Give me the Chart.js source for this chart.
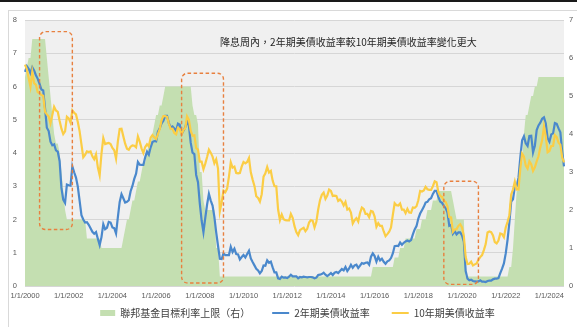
<!DOCTYPE html>
<html>
<head>
<meta charset="utf-8">
<script src="https://cdn.jsdelivr.net/npm/chart.js@4.4.1/dist/chart.umd.min.js"></script>
<style>
  html, body { margin: 0; padding: 0; background: #ffffff; }
  #wrap { width: 577px; height: 327px; }
</style>
</head>
<body>
<div id="wrap"><canvas id="c" width="577" height="327"></canvas></div>
<script>
// Monthly observations, Jan 2000 – Sep 2024
const firstYear = 2000;
const monthCount = 297;

// Fed funds target rate, upper bound (%), right axis
const fedFundsUpper = [
  5.5,5.75,6,6,6.5,6.5,6.5,6.5,6.5,6.5,6.5,6.5,
  6,5.5,5,4.5,4,3.75,3.75,3.5,3,2.5,2,1.75,
  1.75,1.75,1.75,1.75,1.75,1.75,1.75,1.75,1.75,1.75,1.25,1.25,
  1.25,1.25,1.25,1.25,1.25,1.25,1,1,1,1,1,1,
  1,1,1,1,1,1,1.25,1.5,1.75,1.75,2,2.25,
  2.25,2.5,2.75,2.75,3,3.25,3.25,3.5,3.75,3.75,4,4.25,
  4.5,4.5,4.75,4.75,5,5.25,5.25,5.25,5.25,5.25,5.25,5.25,
  5.25,5.25,5.25,5.25,5.25,5.25,5.25,5.25,4.75,4.5,4.5,4.25,
  3,3,2.25,2,2,2,2,2,2,1,1,0.25,
  0.25,0.25,0.25,0.25,0.25,0.25,0.25,0.25,0.25,0.25,0.25,0.25,
  0.25,0.25,0.25,0.25,0.25,0.25,0.25,0.25,0.25,0.25,0.25,0.25,
  0.25,0.25,0.25,0.25,0.25,0.25,0.25,0.25,0.25,0.25,0.25,0.25,
  0.25,0.25,0.25,0.25,0.25,0.25,0.25,0.25,0.25,0.25,0.25,0.25,
  0.25,0.25,0.25,0.25,0.25,0.25,0.25,0.25,0.25,0.25,0.25,0.25,
  0.25,0.25,0.25,0.25,0.25,0.25,0.25,0.25,0.25,0.25,0.25,0.25,
  0.25,0.25,0.25,0.25,0.25,0.25,0.25,0.25,0.25,0.25,0.25,0.5,
  0.5,0.5,0.5,0.5,0.5,0.5,0.5,0.5,0.5,0.5,0.5,0.75,
  0.75,0.75,1,1,1,1.25,1.25,1.25,1.25,1.25,1.25,1.5,
  1.5,1.5,1.75,1.75,1.75,2,2,2,2.25,2.25,2.25,2.5,
  2.5,2.5,2.5,2.5,2.5,2.5,2.5,2.25,2,1.75,1.75,1.75,
  1.75,1.75,0.25,0.25,0.25,0.25,0.25,0.25,0.25,0.25,0.25,0.25,
  0.25,0.25,0.25,0.25,0.25,0.25,0.25,0.25,0.25,0.25,0.25,0.25,
  0.25,0.25,0.5,0.5,1,1.75,2.5,2.5,3.25,3.25,4,4.5,
  4.5,4.75,5,5,5.25,5.25,5.5,5.5,5.5,5.5,5.5,5.5,
  5.5,5.5,5.5,5.5,5.5,5.5,5.5,5.5,5.5
];

// 2-year Treasury yield (%), left axis
const ust2y = [
  6.44,6.61,6.53,6.40,6.58,6.48,6.34,6.23,6.08,5.91,5.88,5.35,
  4.76,4.66,4.34,4.23,4.26,4.08,4.04,3.76,2.95,2.60,2.50,3.05,
  3.03,3.02,3.60,3.42,3.26,2.99,2.56,2.13,2.00,1.91,1.92,1.84,
  1.74,1.63,1.57,1.62,1.42,1.23,1.47,1.86,1.71,1.75,1.93,1.91,
  1.76,1.74,1.58,2.07,2.53,2.76,2.64,2.51,2.53,2.58,2.85,3.01,
  3.22,3.38,3.73,3.65,3.64,3.64,3.87,4.04,3.95,4.17,4.33,4.36,
  4.35,4.64,4.74,4.89,4.97,5.12,5.12,4.90,4.77,4.80,4.74,4.67,
  4.88,4.85,4.57,4.67,4.77,4.96,4.82,4.31,4.01,3.97,3.34,3.12,
  2.48,1.97,1.62,2.05,2.45,2.77,2.57,2.42,2.08,1.61,1.21,0.82,
  0.81,0.98,0.93,0.93,0.93,1.18,1.02,1.12,0.96,0.95,0.80,0.87,
  0.93,0.86,0.96,1.06,0.83,0.72,0.62,0.52,0.47,0.38,0.45,0.62,
  0.61,0.77,0.70,0.73,0.56,0.41,0.41,0.23,0.21,0.28,0.25,0.26,
  0.24,0.28,0.34,0.29,0.29,0.29,0.23,0.27,0.26,0.28,0.27,0.26,
  0.27,0.27,0.26,0.23,0.25,0.33,0.34,0.36,0.40,0.34,0.30,0.34,
  0.39,0.33,0.40,0.42,0.39,0.45,0.51,0.47,0.57,0.45,0.53,0.64,
  0.55,0.62,0.64,0.54,0.61,0.69,0.67,0.70,0.71,0.64,0.88,0.98,
  0.90,0.73,0.88,0.77,0.82,0.73,0.67,0.74,0.77,0.84,0.98,1.20,
  1.21,1.20,1.31,1.24,1.30,1.34,1.37,1.34,1.38,1.55,1.70,1.80,
  2.03,2.18,2.28,2.38,2.51,2.53,2.61,2.64,2.77,2.86,2.86,2.68,
  2.54,2.50,2.41,2.34,2.21,1.81,1.84,1.57,1.65,1.55,1.61,1.61,
  1.52,1.33,0.45,0.22,0.17,0.19,0.15,0.14,0.13,0.14,0.17,0.13,
  0.13,0.12,0.15,0.16,0.16,0.20,0.22,0.22,0.24,0.39,0.52,0.68,
  0.98,1.39,1.91,2.54,2.61,2.99,3.00,3.25,3.86,4.38,4.50,4.29,
  4.21,4.51,4.52,4.02,4.22,4.69,4.83,4.91,5.03,5.07,4.89,4.44,
  4.34,4.56,4.59,4.90,4.88,4.74,4.62,4.05,3.60
];

// 10-year Treasury yield (%), left axis
const ust10y = [
  6.66,6.52,6.26,5.99,6.44,6.10,6.05,5.83,5.80,5.74,5.72,5.24,
  5.16,5.10,4.89,5.14,5.39,5.28,5.24,4.97,4.73,4.57,4.65,5.09,
  5.04,4.91,5.28,5.21,5.16,4.93,4.65,4.26,3.87,3.94,4.05,4.03,
  4.05,3.90,3.81,3.96,3.57,3.33,3.98,4.45,4.27,4.29,4.30,4.27,
  4.15,4.08,3.83,4.35,4.72,4.73,4.50,4.28,4.13,4.10,4.19,4.23,
  4.22,4.17,4.50,4.34,4.14,4.00,4.18,4.26,4.20,4.46,4.54,4.47,
  4.42,4.57,4.72,4.99,5.11,5.11,5.09,4.88,4.72,4.73,4.60,4.56,
  4.76,4.72,4.56,4.69,4.75,5.10,5.00,4.67,4.52,4.53,4.15,4.10,
  3.74,3.74,3.51,3.68,3.88,4.10,4.01,3.89,3.69,3.81,3.53,2.25,
  2.52,2.87,2.82,2.93,3.29,3.72,3.56,3.59,3.40,3.39,3.40,3.59,
  3.73,3.69,3.73,3.85,3.42,3.20,3.01,2.70,2.65,2.54,2.76,3.29,
  3.39,3.58,3.41,3.46,3.17,3.00,3.00,2.30,1.98,2.15,2.01,1.98,
  1.97,1.97,2.17,2.05,1.80,1.62,1.53,1.68,1.72,1.75,1.65,1.72,
  1.91,1.98,1.96,1.76,1.93,2.30,2.58,2.74,2.81,2.62,2.72,2.90,
  2.86,2.71,2.72,2.71,2.56,2.60,2.54,2.42,2.53,2.30,2.33,2.21,
  1.88,1.98,2.04,1.94,2.20,2.36,2.32,2.17,2.17,2.07,2.26,2.24,
  2.09,1.78,1.89,1.81,1.81,1.64,1.50,1.56,1.63,1.76,2.14,2.49,
  2.43,2.42,2.48,2.30,2.30,2.19,2.32,2.21,2.20,2.36,2.35,2.40,
  2.58,2.86,2.84,2.87,2.98,2.91,2.89,2.89,3.00,3.15,3.12,2.83,
  2.71,2.68,2.57,2.53,2.40,2.07,2.06,1.63,1.70,1.71,1.81,1.86,
  1.76,1.50,0.87,0.66,0.67,0.73,0.62,0.65,0.68,0.79,0.87,0.93,
  1.08,1.26,1.61,1.64,1.62,1.52,1.32,1.28,1.37,1.58,1.56,1.47,
  1.76,1.93,2.13,2.75,2.90,3.14,2.90,2.90,3.52,3.98,3.89,3.62,
  3.53,3.75,3.66,3.46,3.57,3.75,3.90,4.17,4.38,4.80,4.50,4.02,
  4.06,4.21,4.21,4.54,4.48,4.31,4.25,3.87,3.72
];

// x-axis tick labels (every second January)
const tickLabels = [
  '1/1/2000','1/1/2002','1/1/2004','1/1/2006','1/1/2008','1/1/2010','1/1/2012',
  '1/1/2014','1/1/2016','1/1/2018','1/1/2020','1/1/2022','1/1/2024'
];

// Rate-cut windows outlined on the chart (month range, left-axis value range)
const cutWindows = [
  { from: '9/1/2000', to: '3/1/2002', low: 1.7, high: 7.65 },
  { from: '3/1/2007', to: '2/1/2009', low: 0.09, high: 6.4 },
  { from: '3/1/2019', to: '10/1/2020', low: 0.05, high: 3.15 }
];

const seriesNames = ['聯邦基金目標利率上限（右）', '2年期美債收益率', '10年期美債收益率'];
const noteText = '降息周內，2年期美債收益率較10年期美債收益率變化更大';

// Month labels "M/1/YYYY"
const months = [];
for (let i = 0; i < monthCount; i++) {
  const y = firstYear + Math.floor(i / 12);
  const m = (i % 12) + 1;
  months.push(m + '/1/' + y);
}

const COLORS = {
  fed: '#c4dfb1',
  y2: '#4a88cc',
  y10: '#fbcd45',
  plotBg: '#f0f0f0',
  grid: '#d6d6d6',
  tick: '#595959',
  frame: '#d9d9d9',
  window: '#e8803f'
};
const CJK = "'Noto Sans CJK TC', 'Noto Sans CJK SC', sans-serif";

function roundedRectPath(ctx, x, y, w, h, r) {
  ctx.beginPath();
  ctx.moveTo(x + r, y);
  ctx.lineTo(x + w - r, y);
  ctx.arcTo(x + w, y, x + w, y + r, r);
  ctx.lineTo(x + w, y + h - r);
  ctx.arcTo(x + w, y + h, x + w - r, y + h, r);
  ctx.lineTo(x + r, y + h);
  ctx.arcTo(x, y + h, x, y + h - r, r);
  ctx.lineTo(x, y + r);
  ctx.arcTo(x, y, x + r, y, r);
  ctx.closePath();
}

const decor = {
  id: 'decor',
  beforeDraw(chart) {
    const { ctx, chartArea: a, width, height } = chart;
    ctx.save();
    ctx.fillStyle = '#ffffff';
    ctx.fillRect(0, 0, width, height);
    // dark rule along the top
    ctx.fillStyle = '#1a1a1a';
    ctx.fillRect(0, 0, width, 2);
    // light outer frame
    ctx.strokeStyle = COLORS.frame;
    ctx.lineWidth = 1;
    ctx.strokeRect(8.5, 10.5, width + 10, height + 10);
    // plot background
    ctx.fillStyle = COLORS.plotBg;
    ctx.fillRect(a.left, a.top, a.right - a.left, a.bottom - a.top);
    ctx.restore();
  },
  afterDatasetsDraw(chart) {
    const { ctx, chartArea: a, scales } = chart;
    const x = scales.x, y = scales.y;
    ctx.save();
    // dashed outlines around rate-cut windows
    ctx.strokeStyle = COLORS.window;
    ctx.lineWidth = 1.4;
    ctx.setLineDash([3.5, 2.5]);
    cutWindows.forEach(w => {
      const x0 = x.getPixelForValue(months.indexOf(w.from));
      const x1 = x.getPixelForValue(months.indexOf(w.to));
      const y0 = y.getPixelForValue(w.high);
      const y1 = y.getPixelForValue(w.low);
      roundedRectPath(ctx, x0, y0, x1 - x0, y1 - y0, 6);
      ctx.stroke();
    });
    ctx.setLineDash([]);
    // note inside the plot
    ctx.fillStyle = '#262626';
    ctx.font = '10px ' + CJK;
    ctx.textAlign = 'center';
    ctx.textBaseline = 'middle';
    ctx.fillText(noteText, a.left + (a.right - a.left) * 0.6, a.top + 22);
    ctx.restore();
  },
  afterDraw(chart) {
    const { ctx, chartArea: a } = chart;
    const ds = chart.data.datasets;
    ctx.save();
    ctx.font = '10px ' + CJK;
    ctx.textBaseline = 'middle';
    ctx.textAlign = 'left';
    const boxW = [15, 17, 17];
    const gap = 5, pad = 22;
    const widths = ds.map((d, i) => boxW[i] + gap + ctx.measureText(d.label).width);
    const total = widths.reduce((s, v) => s + v, 0) + pad * (ds.length - 1);
    let cx = (a.left + a.right) / 2 + 3 - total / 2;
    const cy = 313;
    ds.forEach((d, i) => {
      if (i === 0) {
        ctx.fillStyle = d.backgroundColor;
        ctx.fillRect(cx, cy - 3, boxW[i], 6);
      } else {
        ctx.strokeStyle = d.borderColor;
        ctx.lineWidth = 2;
        ctx.beginPath();
        ctx.moveTo(cx, cy);
        ctx.lineTo(cx + boxW[i], cy);
        ctx.stroke();
      }
      ctx.fillStyle = '#404040';
      ctx.fillText(d.label, cx + boxW[i] + gap, cy);
      cx += widths[i] + pad;
    });
    ctx.restore();
  }
};

new Chart(document.getElementById('c'), {
  type: 'line',
  data: {
    labels: months,
    datasets: [
      {
        label: seriesNames[0],
        data: fedFundsUpper,
        yAxisID: 'y1',
        fill: 'origin',
        backgroundColor: COLORS.fed,
        borderColor: COLORS.fed,
        borderWidth: 0,
        pointRadius: 0,
        order: 3
      },
      {
        label: seriesNames[1],
        data: ust2y,
        yAxisID: 'y',
        borderColor: COLORS.y2,
        backgroundColor: COLORS.y2,
        borderWidth: 2.2,
        pointRadius: 0,
        fill: false,
        order: 2
      },
      {
        label: seriesNames[2],
        data: ust10y,
        yAxisID: 'y',
        borderColor: COLORS.y10,
        backgroundColor: COLORS.y10,
        borderWidth: 2.2,
        pointRadius: 0,
        fill: false,
        order: 1
      }
    ]
  },
  options: {
    responsive: false,
    animation: false,
    devicePixelRatio: 1,
    layout: { padding: { top: 20, left: 0, right: 0, bottom: 0 } },
    plugins: {
      legend: { display: false },
      title: { display: false },
      tooltip: { enabled: false }
    },
    elements: { line: { tension: 0 } },
    scales: {
      x: {
        type: 'category',
        offset: false,
        grid: { display: false, drawTicks: false },
        border: { display: false },
        ticks: {
          autoSkip: false,
          maxRotation: 0,
          minRotation: 0,
          padding: 5,
          color: COLORS.tick,
          font: { family: "'Liberation Sans', Arial, sans-serif", size: 7.5 },
          callback(value) {
            const lbl = this.getLabelForValue(value);
            return tickLabels.includes(lbl) ? lbl : null;
          }
        },
        afterFit(scale) { scale.height = 41; }
      },
      y: {
        position: 'left',
        min: 0,
        max: 8,
        grid: { color: COLORS.grid, lineWidth: 1, drawTicks: false },
        border: { display: false },
        ticks: {
          stepSize: 1,
          padding: 8,
          color: COLORS.tick,
          font: { family: "'Liberation Sans', Arial, sans-serif", size: 7.5 }
        },
        afterFit(scale) { scale.width = 25; }
      },
      y1: {
        position: 'right',
        min: 0,
        max: 7,
        grid: { display: false, drawTicks: false },
        border: { display: false },
        ticks: {
          stepSize: 1,
          padding: 5,
          color: COLORS.tick,
          font: { family: "'Liberation Sans', Arial, sans-serif", size: 7.5 }
        },
        afterFit(scale) { scale.width = 13; }
      }
    }
  },
  plugins: [decor]
});
</script>
</body>
</html>
